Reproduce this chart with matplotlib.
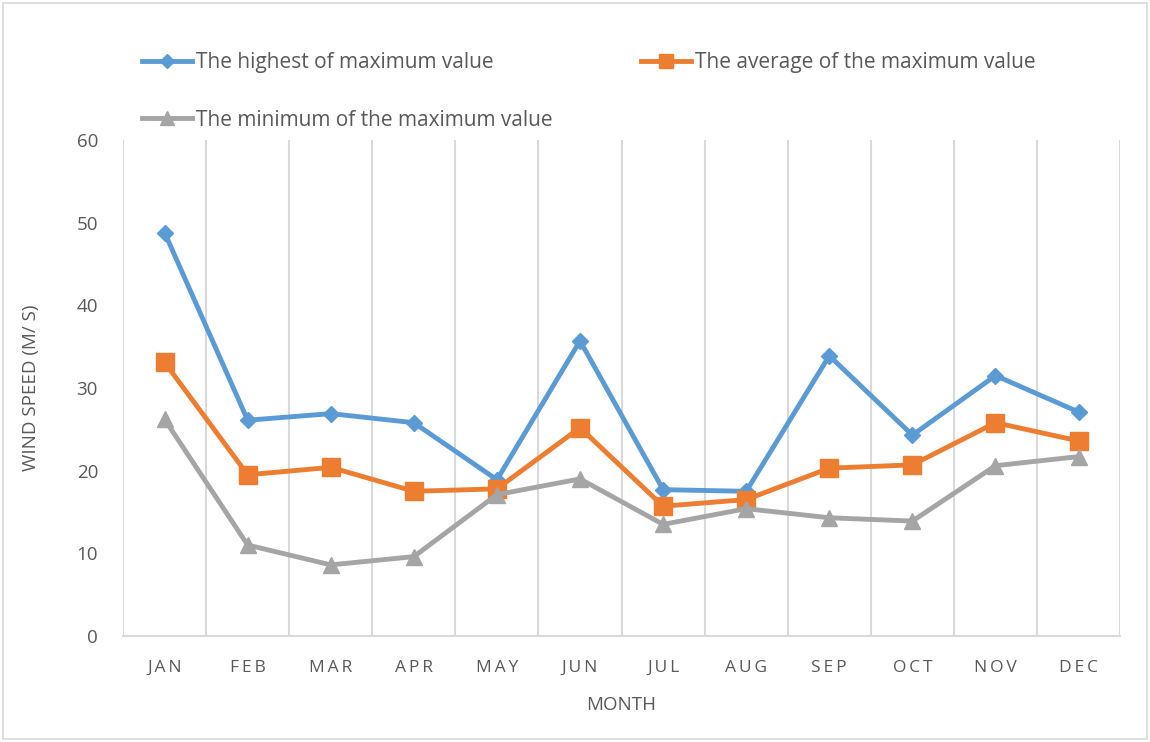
import matplotlib.pyplot as plt
from matplotlib.patches import Rectangle

plt.rcParams['font.family'] = ['Open Sans', 'DejaVu Sans']

months = ['JAN', 'FEB', 'MAR', 'APR', 'MAY', 'JUN', 'JUL', 'AUG', 'SEP', 'OCT', 'NOV', 'DEC']
highest = [48.8, 26.1, 26.9, 25.8, 18.9, 35.7, 17.7, 17.5, 33.9, 24.3, 31.5, 27.1]
average = [33.1, 19.5, 20.4, 17.5, 17.8, 25.2, 15.7, 16.5, 20.3, 20.7, 25.8, 23.6]
minimum = [26.2, 11.0, 8.6, 9.6, 17.1, 19.0, 13.5, 15.4, 14.3, 13.9, 20.6, 21.7]

txt = '#595959'
fig = plt.figure(figsize=(11.5, 7.42), dpi=100)
ax = fig.add_axes([0.107, 0.1429, 0.867, 0.6684])

x = range(len(months))
h1, = ax.plot(x, highest, color='#5B9BD5', lw=3.5, marker='D', ms=8.5, label='The highest of maximum value')
h2, = ax.plot(x, average, color='#ED7D31', lw=3.5, marker='s', ms=12.5, label='The average of the maximum value')
h3, = ax.plot(x, minimum, color='#A5A5A5', lw=3.5, marker='^', ms=12, label='The minimum of the maximum value')

ax.set_xlim(-0.5, 11.5)
ax.set_ylim(0, 60)
ax.set_yticks(range(0, 61, 10))
ax.set_xticks(list(x))
ax.set_xticklabels(['\u2009'.join(m) for m in months])
ax.set_xticks([i - 0.5 for i in range(13)], minor=True)
ax.grid(True, which='minor', axis='x', color='#D9D9D9', lw=1.5)
ax.set_axisbelow(True)
ax.tick_params(which='both', length=0)
ax.tick_params(axis='x', labelsize=12.5, colors=txt, pad=17)
ax.tick_params(axis='y', labelsize=13.5, colors=txt, pad=18)
for s in ['top', 'right', 'left']:
    ax.spines[s].set_visible(False)
ax.spines['bottom'].set_color('#D9D9D9')
ax.spines['bottom'].set_linewidth(1.5)

ax.set_xlabel('MONTH', fontsize=13.5, color=txt, labelpad=15)
ax.set_ylabel('WIND SPEED (M/ S)', fontsize=13.5, color=txt, labelpad=26)

fig.legend(handles=[h1, h3, h2], loc='upper left', bbox_to_anchor=(0.107, 0.955), ncol=2, frameon=False,
           fontsize=15, labelcolor=txt, handlelength=2.4, handletextpad=0.2,
           columnspacing=4.25, labelspacing=1.75, markerscale=0.8)

fig.patches.append(Rectangle((0.003, 0.004), 0.994, 0.992, transform=fig.transFigure,
                             fill=False, edgecolor='#D9D9D9', lw=1.2))

fig.savefig('out.png', dpi=100)
